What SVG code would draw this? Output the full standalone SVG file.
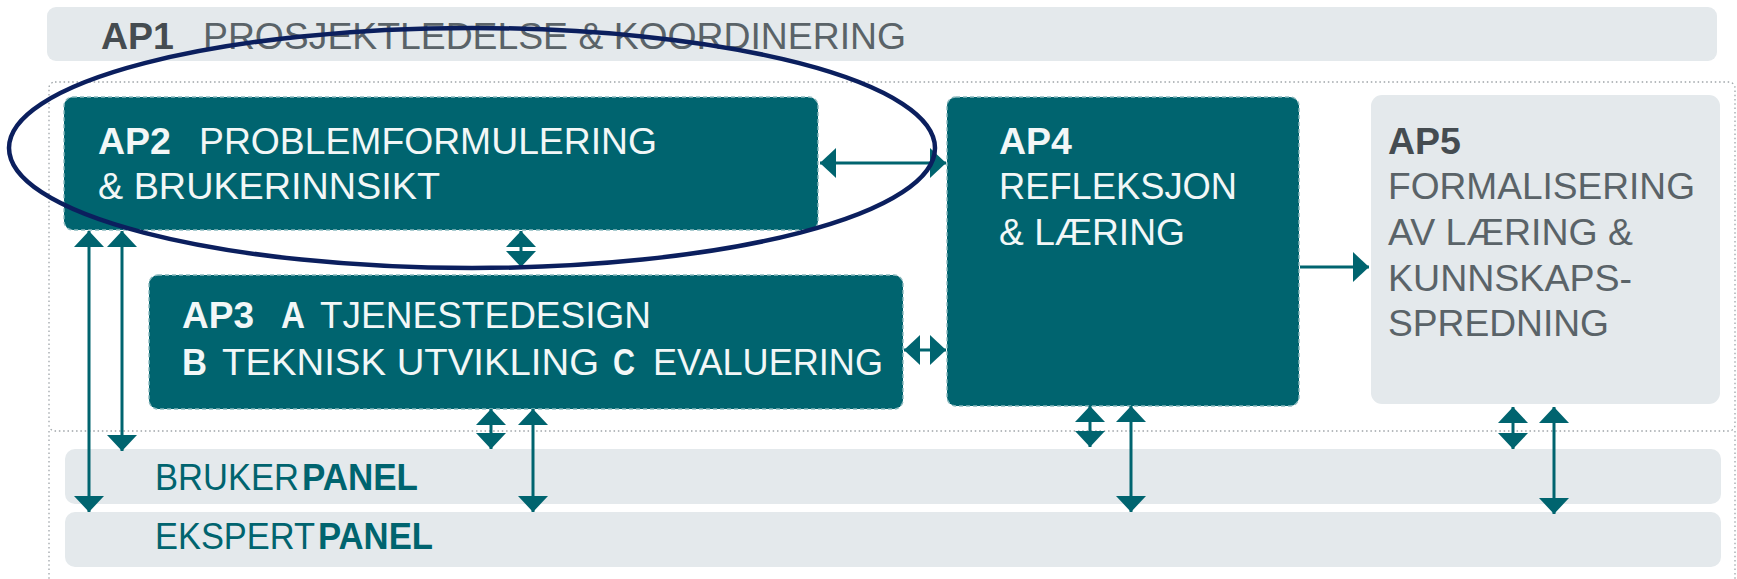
<svg xmlns="http://www.w3.org/2000/svg" width="1737" height="579" viewBox="0 0 1737 579">
<style>
.t{font-family:"Liberation Sans",Arial,sans-serif;font-size:37px}
.b{font-weight:bold}
.w{fill:#f2f7f7}
.g{fill:#5a6368}
.gb{fill:#454c51}
.tl{fill:#00646f}
.box{fill:#00646f;stroke:#8ab9be;stroke-width:1.4;stroke-dasharray:4 3}
.bar{fill:#e4e9ec}
.dot{fill:none;stroke:#9ea4a8;stroke-width:1.3;stroke-dasharray:1.5 2.8}
.c{stroke:#00646f;stroke-width:3;fill:none}
.a{marker-end:url(#h);marker-start:url(#h)}
.e{marker-end:url(#h)}
</style>
<defs>
<marker id="h" viewBox="0 0 16 30" refX="16" refY="15" markerWidth="16" markerHeight="30" markerUnits="userSpaceOnUse" orient="auto-start-reverse">
<path d="M0,0 L16,15 L0,30 Z" fill="#00646f"/>
</marker>
</defs>
<rect width="1737" height="579" fill="#ffffff"/>

<g id="ap1">
<rect class="bar" x="47" y="7" width="1670" height="54" rx="9"/>
<text class="t b gb" x="101" y="49" font-size="39" textLength="73" lengthAdjust="spacingAndGlyphs">AP1</text>
<text class="t g" x="203" y="49" font-size="39" textLength="703" lengthAdjust="spacingAndGlyphs">PROSJEKTLEDELSE &amp; KOORDINERING</text>
</g>

<g id="container">
<rect class="dot" x="49" y="82" width="1686" height="349" rx="6"/>
<path class="dot" d="M49,431 V579 M1735,431 V579"/>
</g>

<g id="brukerpanel">
<rect class="bar" x="65" y="449" width="1656" height="55" rx="10"/>
<text class="t tl" x="155" y="490" textLength="144" lengthAdjust="spacingAndGlyphs">BRUKER</text>
<text class="t b tl" x="302" y="490" textLength="116" lengthAdjust="spacingAndGlyphs">PANEL</text>
</g>

<g id="ekspertpanel">
<rect class="bar" x="65" y="512" width="1656" height="55" rx="10"/>
<text class="t tl" x="155" y="549" textLength="160" lengthAdjust="spacingAndGlyphs">EKSPERT</text>
<text class="t b tl" x="318" y="549" textLength="115" lengthAdjust="spacingAndGlyphs">PANEL</text>
</g>

<g id="ap2">
<rect class="box" x="64" y="97" width="754" height="133" rx="9"/>
<text class="t b w" x="98" y="154" textLength="73" lengthAdjust="spacingAndGlyphs">AP2</text>
<text class="t w" x="199" y="154" textLength="458" lengthAdjust="spacingAndGlyphs">PROBLEMFORMULERING</text>
<text class="t w" x="98" y="199" textLength="342" lengthAdjust="spacingAndGlyphs">&amp; BRUKERINNSIKT</text>
</g>

<g id="ap3">
<rect class="box" x="149" y="275" width="754" height="134" rx="9"/>
<text class="t b w" x="182" y="328" textLength="72" lengthAdjust="spacingAndGlyphs">AP3</text>
<text class="t b w" x="281" y="328" textLength="24" lengthAdjust="spacingAndGlyphs">A</text>
<text class="t w" x="320" y="328" textLength="331" lengthAdjust="spacingAndGlyphs">TJENESTEDESIGN</text>
<text class="t b w" x="182" y="375" textLength="25" lengthAdjust="spacingAndGlyphs">B</text>
<text class="t w" x="222" y="375" textLength="377" lengthAdjust="spacingAndGlyphs">TEKNISK UTVIKLING</text>
<text class="t b w" x="613" y="375" textLength="22" lengthAdjust="spacingAndGlyphs">C</text>
<text class="t w" x="653" y="375" textLength="230" lengthAdjust="spacingAndGlyphs">EVALUERING</text>
</g>

<g id="ap4">
<rect class="box" x="947" y="97" width="352" height="309" rx="9"/>
<text class="t b w" x="999" y="154" textLength="73" lengthAdjust="spacingAndGlyphs">AP4</text>
<text class="t w" x="999" y="199" textLength="238" lengthAdjust="spacingAndGlyphs">REFLEKSJON</text>
<text class="t w" x="999" y="245" textLength="186" lengthAdjust="spacingAndGlyphs">&amp; LÆRING</text>
</g>

<g id="ap5">
<rect class="bar" x="1371" y="95" width="349" height="309" rx="11"/>
<text class="t b gb" x="1388" y="154" textLength="73" lengthAdjust="spacingAndGlyphs">AP5</text>
<text class="t g" x="1388" y="199" textLength="307" lengthAdjust="spacingAndGlyphs">FORMALISERING</text>
<text class="t g" x="1388" y="245" textLength="245" lengthAdjust="spacingAndGlyphs">AV LÆRING &amp;</text>
<text class="t g" x="1388" y="291" textLength="244" lengthAdjust="spacingAndGlyphs">KUNNSKAPS-</text>
<text class="t g" x="1388" y="336" textLength="221" lengthAdjust="spacingAndGlyphs">SPREDNING</text>
</g>

<g id="connectors">
<line class="c a" x1="820" y1="163" x2="946" y2="163"/>
<line class="c e" x1="1300" y1="267" x2="1369" y2="267"/>
<line class="c a" x1="904" y1="350" x2="946" y2="350"/>
<line class="c a" x1="89" y1="231" x2="89" y2="512"/>
<line class="c a" x1="122" y1="231" x2="122" y2="451"/>
<line class="c a" x1="521" y1="231" x2="521" y2="267"/>
<line class="c a" x1="491" y1="409" x2="491" y2="449"/>
<line class="c a" x1="533" y1="409" x2="533" y2="512"/>
<line class="c a" x1="1090" y1="406" x2="1090" y2="447"/>
<line class="c a" x1="1131" y1="406" x2="1131" y2="512"/>
<line class="c a" x1="1513" y1="407" x2="1513" y2="449"/>
<line class="c a" x1="1554" y1="407" x2="1554" y2="514"/>
</g>

<g id="highlight">
<ellipse cx="472" cy="148" rx="463" ry="120" fill="none" stroke="#0b1f5e" stroke-width="4.5"/>
</g>
</svg>
